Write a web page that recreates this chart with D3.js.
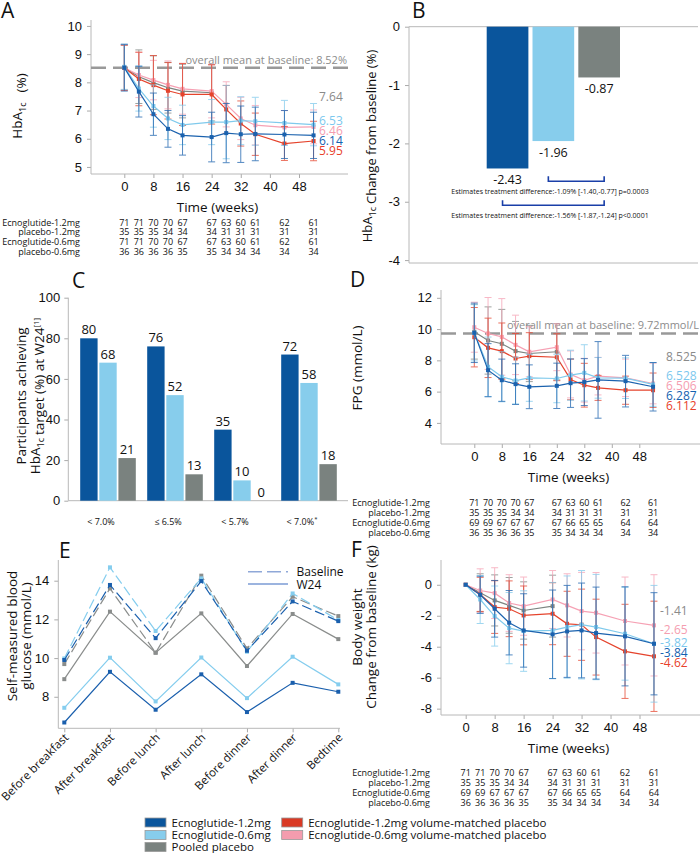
<!DOCTYPE html>
<html>
<head>
<meta charset="utf-8">
<script src="https://cdn.jsdelivr.net/npm/d3@7"></script>
<style>
  body { margin: 0; background: #fff; }
  svg { font-family: "Open Sans", sans-serif; }
  .tick text { fill: #111; }
  .tick line { stroke: #aaa; }
</style>
</head>
<body>
<div id="chart"></div>
<script>
// ---------- data ----------
const groupKeys = ['ecno12', 'ecno06', 'pooled', 'pla12', 'pla06'];
const groupNames = ['Ecnoglutide-1.2mg', 'Ecnoglutide-0.6mg', 'Pooled placebo',
  'Ecnoglutide-1.2mg volume-matched placebo', 'Ecnoglutide-0.6mg volume-matched placebo'];
const lineColors = ['#1b62ae', '#80caec', '#7d8481', '#e5432c', '#f6a1b4'];
const barColors = ['#0a559c', '#87cdec', '#7a827f', '#d93a25', '#f49cae'];
const labelColors = ['#1462b0', '#7cc8ee', '#8a8a8a', '#e8402a', '#f59db0'];

const weeks = [0, 4, 8, 12, 16, 24, 28, 32, 36, 44, 52];
const weekTicks = [0, 8, 16, 24, 32, 40, 48];
const tableRows = ['Ecnoglutide-1.2mg', 'placebo-1.2mg', 'Ecnoglutide-0.6mg', 'placebo-0.6mg'];

// A: HbA1c (%)
const hbaEcno12 = [8.52, 7.67, 6.87, 6.35, 6.12, 6.06, 6.2, 6.16, 6.17, 6.15, 6.12];
const hbaEcno12Sd = [0.83, 0.9, 0.75, 0.65, 0.7, 0.88, 1.05, 1.0, 0.95, 0.85, 0.82];
const hbaEcno06 = [8.55, 7.78, 7.16, 6.72, 6.49, 6.59, 6.59, 6.64, 6.62, 6.56, 6.5];
const hbaEcno06Sd = [0.8, 0.8, 0.75, 0.75, 0.7, 0.8, 1.3, 0.85, 0.85, 0.8, 0.75];
const hbaPooled = [8.52, 8.2, 7.99, 7.81, 7.69, 7.63];
const hbaPooledSd = [0.8, 0.95, 0.95, 0.9, 0.95, 1.0];
const hbaPla12 = [8.52, 8.12, 7.9, 7.7, 7.57, 7.57, 7.04, 6.54, 6.16, 5.83, 5.92];
const hbaPla12Sd = [0.8, 0.95, 1.05, 1.0, 1.1, 1.05, 0.85, 0.8, 0.75, 0.6, 0.7];
const hbaPla06 = [8.52, 8.26, 8.08, 7.91, 7.77, 7.69, 7.22, 6.72, 6.48, 6.4, 6.42];
const hbaPla06Sd = [0.8, 0.8, 0.7, 0.85, 0.9, 0.95, 0.8, 0.75, 0.7, 0.6, 0.6];
const hbaEnd = [6.14, 6.53, 7.64, 5.95, 6.46];
const hbaN = [
  [71, 71, 70, 70, 67, 67, 63, 60, 61, 62, 61],
  [35, 35, 35, 34, 34, 34, 31, 31, 31, 31, 31],
  [71, 71, 70, 70, 67, 67, 63, 60, 61, 62, 61],
  [36, 36, 36, 36, 35, 35, 34, 34, 34, 34, 34]];

// B: HbA1c change from baseline at W24
const changeValues = [-2.43, -1.96, -0.87];
const diffTexts = ['Estimates treatment difference:-1.09% [-1.40,-0.77] p=0.0003',
  'Estimates treatment difference:-1.56% [-1.87,-1.24] p<0.0001'];

// C: participants achieving target
const targetCats = ['< 7.0%', '≤ 6.5%', '< 5.7%', '< 7.0%'];
const targetEcno12 = [80, 76, 35, 72];
const targetEcno06 = [68, 52, 10, 58];
const targetPooled = [21, 13, 0, 18];

// D: FPG (mmol/L)
const fpgEcno12 = [9.76, 7.37, 6.73, 6.48, 6.31, 6.37, 6.54, 6.61, 6.75, 6.67, 6.31];
const fpgEcno12Sd = [1.9, 1.7, 1.35, 1.3, 1.4, 1.45, 1.55, 1.5, 2.45, 1.65, 1.55];
const fpgEcno06 = [9.76, 7.59, 6.95, 6.71, 6.88, 6.84, 7.05, 7.2, 6.88, 6.86, 6.46];
const fpgEcno06Sd = [1.8, 1.9, 1.6, 1.5, 1.5, 1.55, 1.6, 1.8, 1.3, 1.3, 1.4];
const fpgPooled = [9.83, 9.27, 9.06, 8.59, 8.44, 8.55];
const fpgPooledSd = [1.75, 2.15, 2.2, 1.9, 1.8, 1.8];
const fpgPla12 = [9.48, 8.8, 8.59, 8.12, 8.27, 8.2, 6.78, 6.41, 6.24, 6.09, 6.09];
const fpgPla12Sd = [1.9, 1.9, 1.8, 1.6, 1.5, 1.5, 1.3, 1.4, 0.8, 0.9, 1.1];
const fpgPla06 = [10.12, 9.72, 9.5, 8.99, 8.55, 8.84, 7.1, 6.73, 6.99, 6.88, 6.52];
const fpgPla06Sd = [1.6, 2.3, 2.45, 1.9, 1.6, 1.5, 1.5, 1.4, 1.2, 1.2, 1.3];
const fpgEnd = [6.287, 6.528, 8.525, 6.112, 6.506];
const fpgN = [
  [71, 70, 70, 70, 67, 67, 63, 60, 61, 62, 61],
  [35, 35, 35, 34, 34, 34, 31, 31, 31, 31, 31],
  [69, 69, 67, 67, 67, 67, 66, 65, 65, 64, 64],
  [36, 35, 36, 36, 35, 35, 34, 34, 34, 34, 34]];

// E: self-measured blood glucose (mmol/L)
const smbgTimes = ['Before breakfast', 'After breakfast', 'Before lunch', 'After lunch',
  'Before dinner', 'After dinner', 'Bedtime'];
const smbgBaseEcno12 = [9.9, 13.78, 11.03, 13.98, 10.38, 12.93, 11.91];
const smbgBaseEcno06 = [9.98, 14.69, 11.4, 14.12, 10.33, 13.34, 11.97];
const smbgBasePooled = [9.69, 13.6, 10.28, 14.26, 10.5, 13.17, 12.17];
const smbgW24Ecno12 = [6.67, 9.29, 7.33, 9.16, 7.21, 8.72, 8.26];
const smbgW24Ecno06 = [7.43, 10.02, 7.76, 10.03, 7.93, 10.07, 8.64];
const smbgW24Pooled = [8.91, 12.4, 10.28, 12.31, 9.59, 12.28, 10.98];

// F: body weight change from baseline (kg)
const bwEcno12 = [0, -0.65, -1.55, -2.45, -2.95, -3.2, -3.01, -2.95, -3.12, -3.33, -3.81];
const bwEcno12Sd = [0, 1.2, 1.83, 2.08, 2.37, 2.86, 2.97, 3.06, 2.97, 3.2, 3.3];
const bwEcno06 = [0, -0.95, -2.02, -2.8, -2.99, -2.95, -2.73, -2.58, -2.73, -3.16, -3.81];
const bwEcno06Sd = [0, 1.55, 1.94, 2.3, 2.6, 3.1, 3.3, 3.5, 3.4, 3.0, 3.77];
const bwPooled = [0, -0.52, -1.01, -1.33, -1.66, -1.38];
const bwPooledSd = [0, 1.23, 1.65, 1.8, 1.85, 2.0];
const bwPla12 = [0, -0.62, -1.44, -1.55, -1.98, -1.87, -2.52, -2.58, -3.38, -4.3, -4.62];
const bwPla12Sd = [0, 1.1, 1.7, 1.8, 1.9, 2.0, 2.1, 2.3, 2.45, 3.04, 3.56];
const bwPla06 = [0, -0.37, -0.54, -1.18, -1.38, -0.95, -1.33, -1.7, -1.81, -2.34, -2.62];
const bwPla06Sd = [0, 1.4, 1.64, 1.83, 1.88, 1.87, 2.04, 2.5, 2.6, 2.84, 3.27];
const bwEnd = [-3.84, -3.82, -1.41, -4.62, -2.65];
const bwN = [
  [71, 71, 70, 70, 67, 67, 63, 60, 61, 62, 61],
  [35, 35, 35, 34, 34, 34, 31, 31, 31, 31, 31],
  [69, 69, 67, 67, 67, 67, 66, 65, 65, 64, 64],
  [36, 36, 36, 36, 35, 35, 34, 34, 34, 34, 34]];

// ---------- drawing ----------
const svg = d3.select('#chart').append('svg')
  .attr('width', 700).attr('height', 853);

const axisGray = '#b8b8b8';
const plain = d => String(d);   // hyphen minus, no trailing decimals

function panelLetter(t, x, y) {
  svg.append('text').attr('x', x).attr('y', y).attr('font-size', 21).attr('fill', '#111').text(t);
}

function hLine(g, x1, x2, y) {
  g.append('line').attr('x1', x1).attr('x2', x2).attr('y1', y).attr('y2', y)
    .attr('stroke', axisGray).attr('stroke-width', 1);
}
function vLine(g, x, y1, y2) {
  g.append('line').attr('x1', x).attr('x2', x).attr('y1', y1).attr('y2', y2)
    .attr('stroke', axisGray).attr('stroke-width', 1);
}

// spread end labels so they don't overlap
function spread(items, gap) {
  items.sort((a, b) => a.y - b.y);
  for (let k = 0; k < 200; k++) {
    for (let i = 1; i < items.length; i++) {
      let d = items[i].y - items[i - 1].y;
      if (d < gap) {
        let s = (gap - d) / 2;
        items[i - 1].y -= s;
        items[i].y += s;
      }
    }
  }
  return items;
}

function linePanel(o) {
  const g = svg.append('g');
  const x = d3.scaleLinear().domain([0, 48]).range(o.xRange);
  const y = d3.scaleLinear().domain(o.yDomain).range(o.yRange);

  // axes
  g.append('g').attr('transform', `translate(${o.left},0)`)
    .call(d3.axisLeft(y).tickValues(o.yTicks).tickFormat(plain).tickSize(4).tickPadding(5))
    .call(a => a.select('.domain').remove())
    .selectAll('text').attr('font-size', 13);
  g.append('g').attr('transform', `translate(0,${o.yRange[0]})`)
    .call(d3.axisBottom(x).tickValues(weekTicks).tickFormat(plain).tickSize(4).tickPadding(4))
    .call(a => a.select('.domain').remove())
    .selectAll('text').attr('font-size', 13);
  vLine(g, o.left, o.yRange[1], o.yRange[0]);
  hLine(g, o.left, o.right, o.yRange[0]);

  g.append('text').attr('x', (o.left + o.right) / 2 - 2).attr('y', o.yRange[0] + 38)
    .attr('text-anchor', 'middle').attr('font-size', 13.5).attr('fill', '#111').text('Time (weeks)');

  // mean reference line
  if (o.mean !== undefined) {
    g.append('line').attr('x1', o.left).attr('x2', o.right)
      .attr('y1', y(o.mean)).attr('y2', y(o.mean))
      .attr('stroke', '#999').attr('stroke-width', 2.5).attr('stroke-dasharray', '15,7');
    g.append('text').attr('x', o.right - 1).attr('y', y(o.mean) - 4)
      .attr('text-anchor', 'end').attr('font-size', 11).attr('fill', '#8c8c8c').text(o.meanText);
  }

  // series: draw pooled, pink, red, light, dark
  const order = [2, 4, 3, 1, 0];
  order.forEach(i => {
    const vals = o.series[i], sds = o.sds[i];
    const pts = vals.map((v, j) => ({ w: weeks[j], v: v, sd: sds[j] }));
    const c = lineColors[i];
    const eb = g.append('g').attr('stroke', c).attr('stroke-width', 1).attr('opacity', 0.75);
    pts.filter(p => p.sd > 0).forEach(p => {
      eb.append('line').attr('x1', x(p.w)).attr('x2', x(p.w))
        .attr('y1', y(p.v - p.sd)).attr('y2', y(p.v + p.sd));
      [p.v - p.sd, p.v + p.sd].forEach(e => {
        eb.append('line').attr('x1', x(p.w) - 3.5).attr('x2', x(p.w) + 3.5)
          .attr('y1', y(e)).attr('y2', y(e));
      });
    });
    g.append('path').datum(pts)
      .attr('fill', 'none').attr('stroke', c).attr('stroke-width', 1.2)
      .attr('d', d3.line().x(p => x(p.w)).y(p => y(p.v)));
    g.selectAll(null).data(pts).join('rect')
      .attr('x', p => x(p.w) - 2).attr('y', p => y(p.v) - 2)
      .attr('width', 4).attr('height', 4).attr('fill', c);
  });

  // end labels
  const items = spread(o.endValues.map((v, i) => ({ v: v, i: i, y: y(v) })), 10);
  items.forEach(it => {
    g.append('text').attr('x', o.endX).attr('y', it.y + 8.5)
      .attr('font-size', 12).attr('fill', labelColors[it.i]).text(it.v.toFixed(o.endDigits));
  });

  // numbers at risk table
  tableRows.forEach((r, k) => {
    const ty = o.tableY + k * o.tableGap;
    g.append('text').attr('x', o.tableRight).attr('y', ty).attr('text-anchor', 'end')
      .attr('font-size', 9).attr('fill', '#111').text(r);
    o.counts[k].forEach((n, j) => {
      g.append('text').attr('x', x(weeks[j])).attr('y', ty).attr('text-anchor', 'middle')
        .attr('font-size', 9).attr('fill', '#111').text(n);
    });
  });
  return g;
}

function rotLabel(x, y, build, size) {
  const t = svg.append('text').attr('transform', `translate(${x},${y}) rotate(-90)`)
    .attr('text-anchor', 'middle').attr('font-size', size || 13.5).attr('fill', '#111');
  build(t);
  return t;
}
function hbaTspans(t) {
  t.append('tspan').text('HbA');
  t.append('tspan').attr('font-size', 9).attr('dy', 4).text('1c');
  t.append('tspan').attr('dy', -4).text('');
}

// ---- Panel A ----
panelLetter('A', 1, 18);
linePanel({
  left: 91, right: 348, xRange: [124.3, 299], yDomain: [4.75, 10.21], yRange: [174, 20],
  yTicks: [5, 6, 7, 8, 9, 10],
  series: [hbaEcno12, hbaEcno06, hbaPooled, hbaPla12, hbaPla06],
  sds: [hbaEcno12Sd, hbaEcno06Sd, hbaPooledSd, hbaPla12Sd, hbaPla06Sd],
  endValues: hbaEnd, endX: 319, endDigits: 2,
  mean: 8.52, meanText: 'overall mean at baseline: 8.52%',
  counts: hbaN, tableRight: 80, tableY: 225.5, tableGap: 9.7
});
rotLabel(22, 106, t => {
  hbaTspans(t);
  t.append('tspan').attr('dx', 10).text('(%)');
});

// ---- Panel B ----
panelLetter('B', 412, 18);
(function () {
  const g = svg.append('g');
  const left = 409, right = 698;
  const y = d3.scaleLinear().domain([-4.05, 0]).range([263, 26.7]);
  const x = d3.scaleBand().domain(d3.range(changeValues.length)).range([486.7, 620]).paddingInner(0.09);
  g.append('g').attr('transform', `translate(${left},0)`)
    .call(d3.axisLeft(y).tickValues([0, -1, -2, -3, -4]).tickFormat(plain).tickSize(4).tickPadding(5))
    .call(a => a.select('.domain').remove())
    .selectAll('text').attr('font-size', 13);
  vLine(g, left, 26.7, 263);
  hLine(g, left, right, y(0));
  hLine(g, left, right, 263);

  g.selectAll('.barB').data(changeValues).join('rect').attr('class', 'barB')
    .attr('x', (d, i) => x(i)).attr('width', x.bandwidth())
    .attr('y', y(0)).attr('height', d => y(d) - y(0))
    .attr('fill', (d, i) => barColors[i]);
  g.selectAll('.lblB').data(changeValues).join('text').attr('class', 'lblB')
    .attr('x', (d, i) => x(i) + x.bandwidth() / 2).attr('y', d => y(d) + 15.5)
    .attr('text-anchor', 'middle').attr('font-size', 12.5).attr('fill', '#111')
    .text(d => d.toFixed(2));

  // comparison brackets
  const bc = '#1a3fa8';
  const brackets = [{ from: 1, to: 2, at: -2.65, text: diffTexts[0] },
                    { from: 0, to: 2, at: -3.06, text: diffTexts[1] }];
  brackets.forEach(b => {
    const x1 = x(b.from) + x.bandwidth() / 2 - 5, x2 = x(b.to) + x.bandwidth() / 2 + 5;
    const yy = y(b.at);
    g.append('path').attr('fill', 'none').attr('stroke', bc).attr('stroke-width', 1.6)
      .attr('d', `M${x1},${yy - 5}V${yy}H${x2}V${yy - 5}`);
    g.append('text').attr('x', 550).attr('y', yy + 12.5).attr('text-anchor', 'middle')
      .attr('font-size', 7).attr('fill', '#111').text(b.text);
  });
})();
rotLabel(372, 146, t => {
  hbaTspans(t);
  t.append('tspan').attr('dx', 3).text('Change from baseline (%)');
}, 13);

// ---- Panel C ----
panelLetter('C', 72, 288);
(function () {
  const g = svg.append('g');
  const left = 68.3, right = 348;
  const y = d3.scaleLinear().domain([0, 100]).range([500.7, 297.7]);
  const x0 = d3.scaleBand().domain(d3.range(targetCats.length)).range([74.5, 342.5])
    .paddingInner(0.17).paddingOuter(0.085);
  const x1 = d3.scaleBand().domain([0, 1, 2]).range([0, x0.bandwidth()]).paddingInner(0.09);
  g.append('g').attr('transform', `translate(${left},0)`)
    .call(d3.axisLeft(y).tickValues([0, 20, 40, 60, 80, 100]).tickFormat(plain).tickSize(4).tickPadding(4))
    .call(a => a.select('.domain').remove())
    .selectAll('text').attr('font-size', 13);
  vLine(g, left, 297.7, 500.7);
  hLine(g, left, right, 500.7);

  const groups = [targetEcno12, targetEcno06, targetPooled];
  const rows = [];
  targetCats.forEach((c, ci) => groups.forEach((arr, gi) => rows.push({ ci, gi, v: arr[ci] })));
  g.selectAll('.barC').data(rows).join('rect').attr('class', 'barC')
    .attr('x', d => x0(d.ci) + x1(d.gi)).attr('width', x1.bandwidth())
    .attr('y', d => y(d.v)).attr('height', d => y(0) - y(d.v))
    .attr('fill', d => barColors[d.gi]);
  g.selectAll('.lblC').data(rows).join('text').attr('class', 'lblC')
    .attr('x', d => x0(d.ci) + x1(d.gi) + x1.bandwidth() / 2).attr('y', d => y(d.v) - 4)
    .attr('text-anchor', 'middle').attr('font-size', 13).attr('fill', '#111').text(d => d.v);
  targetCats.forEach((c, ci) => {
    const t = g.append('text').attr('x', x0(ci) + x0.bandwidth() / 2 - 7).attr('y', 525)
      .attr('text-anchor', 'middle').attr('font-size', 9).attr('fill', '#111').text(c);
    if (ci === 3) t.append('tspan').attr('dy', -4).attr('font-size', 6).text('*');
  });
})();
svg.append('text').attr('transform', 'translate(26,396) rotate(-90)')
  .attr('text-anchor', 'middle').attr('font-size', 13.5).attr('fill', '#111')
  .text('Participants achieving');
rotLabel(40, 396, t => {
  hbaTspans(t);
  t.append('tspan').attr('dx', 3).text('target (%) at W24');
  t.append('tspan').attr('dy', -5).attr('font-size', 8).text('[1]');
});

// ---- Panel D ----
panelLetter('D', 350, 287);
linePanel({
  left: 441, right: 700, xRange: [474.3, 639.3], yDomain: [2.65, 12.5], yRange: [444, 290],
  yTicks: [4, 6, 8, 10, 12],
  series: [fpgEcno12, fpgEcno06, fpgPooled, fpgPla12, fpgPla06],
  sds: [fpgEcno12Sd, fpgEcno06Sd, fpgPooledSd, fpgPla12Sd, fpgPla06Sd],
  endValues: fpgEnd, endX: 666, endDigits: 3,
  mean: 9.72, meanText: 'overall mean at baseline: 9.72mmol/L',
  counts: fpgN, tableRight: 430, tableY: 506, tableGap: 10
});
rotLabel(362, 368, t => t.text('FPG (mmol/L)'));

// ---- Panel E ----
panelLetter('E', 59, 558);
(function () {
  const g = svg.append('g');
  const left = 58.3, right = 340, bottom = 728.3;
  const x = d3.scalePoint().domain(smbgTimes).range([64.3, 338.3]);
  const y = d3.scaleLinear().domain([6.37, 15.07]).range([bottom, 560]);
  g.append('g').attr('transform', `translate(${left},0)`)
    .call(d3.axisLeft(y).tickValues([8, 10, 12, 14]).tickFormat(plain).tickSize(4).tickPadding(5))
    .call(a => a.select('.domain').remove())
    .selectAll('text').attr('font-size', 13);
  g.append('g').attr('transform', `translate(0,${bottom})`)
    .call(d3.axisBottom(x).tickSize(4).tickFormat(''))
    .call(a => a.select('.domain').remove());
  vLine(g, left, 560, bottom);
  hLine(g, left, right, bottom);
  smbgTimes.forEach(t => {
    g.append('text').attr('transform', `translate(${x(t) + 5},${bottom + 10}) rotate(-45)`)
      .attr('text-anchor', 'end').attr('font-size', 11.5).attr('fill', '#111').text(t);
  });

  const base = [smbgBaseEcno12, smbgBaseEcno06, smbgBasePooled];
  const w24 = [smbgW24Ecno12, smbgW24Ecno06, smbgW24Pooled];
  const cols = ['#1a5fad', '#85cdee', '#8a8d8c'];
  const drawSet = (sets, dash) => {
    [2, 1, 0].forEach(i => {
      const pts = sets[i].map((v, j) => ({ t: smbgTimes[j], v }));
      g.append('path').datum(pts).attr('fill', 'none').attr('stroke', cols[i])
        .attr('stroke-width', 1.2).attr('stroke-dasharray', dash)
        .attr('d', d3.line().x(p => x(p.t)).y(p => y(p.v)));
      g.selectAll(null).data(pts).join('rect')
        .attr('x', p => x(p.t) - 2).attr('y', p => y(p.v) - 2)
        .attr('width', 4).attr('height', 4).attr('fill', cols[i]);
    });
  };
  drawSet(base, '10,4');
  drawSet(w24, null);

  // legend
  g.append('line').attr('x1', 248).attr('x2', 288).attr('y1', 571.7).attr('y2', 571.7)
    .attr('stroke', '#8fa8d8').attr('stroke-width', 1.5).attr('stroke-dasharray', '14,5');
  g.append('text').attr('x', 296.5).attr('y', 576).attr('font-size', 12).attr('fill', '#111').text('Baseline');
  g.append('line').attr('x1', 248).attr('x2', 288).attr('y1', 584).attr('y2', 584)
    .attr('stroke', '#3a6ac0').attr('stroke-width', 1.2);
  g.append('text').attr('x', 296.5).attr('y', 588.5).attr('font-size', 12).attr('fill', '#111').text('W24');
})();
svg.append('text').attr('transform', 'translate(17,636) rotate(-90)')
  .attr('text-anchor', 'middle').attr('font-size', 13.5).attr('fill', '#111').text('Self-measured blood');
svg.append('text').attr('transform', 'translate(31,636) rotate(-90)')
  .attr('text-anchor', 'middle').attr('font-size', 13.5).attr('fill', '#111').text('glucose (mmol/L)');

// ---- Panel F ----
panelLetter('F', 351, 557);
linePanel({
  left: 441, right: 700, xRange: [465.7, 639.5], yDomain: [-8.41, 1.6], yRange: [715, 560],
  yTicks: [-8, -6, -4, -2, 0],
  series: [bwEcno12, bwEcno06, bwPooled, bwPla12, bwPla06],
  sds: [bwEcno12Sd, bwEcno06Sd, bwPooledSd, bwPla12Sd, bwPla06Sd],
  endValues: bwEnd, endX: 660, endDigits: 2,
  counts: bwN, tableRight: 430, tableY: 776, tableGap: 10
});
svg.append('text').attr('transform', 'translate(362,627) rotate(-90)')
  .attr('text-anchor', 'middle').attr('font-size', 13.5).attr('fill', '#111').text('Body weight');
svg.append('text').attr('transform', 'translate(376,627) rotate(-90)')
  .attr('text-anchor', 'middle').attr('font-size', 13.5).attr('fill', '#111').text('Change from baseline (kg)');

// ---- Legend ----
(function () {
  const g = svg.append('g');
  const pos = [[145, 818], [145, 830.5], [145, 842.5], [281.7, 818], [281.7, 830.5]];
  groupNames.forEach((n, i) => {
    g.append('rect').attr('x', pos[i][0]).attr('y', pos[i][1]).attr('width', 21).attr('height', 9)
      .attr('fill', barColors[i]).attr('stroke', '#999').attr('stroke-width', 0.8);
    g.append('text').attr('x', pos[i][0] + 26.5).attr('y', pos[i][1] + 8.5)
      .attr('font-size', 11.5).attr('fill', '#111').text(n);
  });
})();
</script>
</body>
</html>
